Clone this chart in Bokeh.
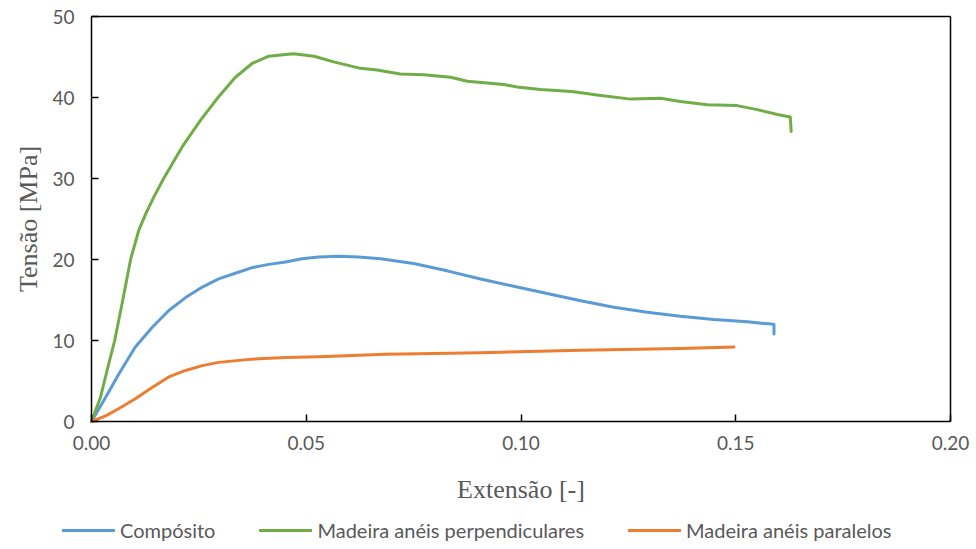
from bokeh.plotting import figure
from bokeh.models import (Range1d, FixedTicker, NumeralTickFormatter, Legend, LegendItem,
                          LinearAxis)
from bokeh.embed import file_html
from bokeh.resources import INLINE

# ---- data ----
strain_comp = [0, 0.0033, 0.0064, 0.0102, 0.0141, 0.018, 0.0219, 0.0258, 0.0296, 0.0335,
               0.0374, 0.0413, 0.0452, 0.049, 0.0529, 0.0576, 0.0622, 0.0673, 0.075, 0.0828,
               0.0906, 0.0983, 0.1061, 0.1139, 0.1216, 0.1294, 0.1371, 0.1449, 0.1527, 0.1589, 0.1589]
stress_comp = [0, 3.0, 5.9, 9.2, 11.6, 13.7, 15.3, 16.6, 17.6, 18.3,
               19.0, 19.4, 19.7, 20.1, 20.3, 20.4, 20.3, 20.1, 19.5, 18.6,
               17.6, 16.7, 15.8, 14.9, 14.1, 13.5, 13.0, 12.6, 12.3, 12.0, 10.8]

strain_perp = [0, 0.0021, 0.0040, 0.0054, 0.0074, 0.0091, 0.011, 0.0126, 0.0145, 0.0168,
               0.0211, 0.0254, 0.0293, 0.0335, 0.0374, 0.0413, 0.0452, 0.0471, 0.0518, 0.0564,
               0.0626, 0.0665, 0.0719, 0.0774, 0.0836, 0.0875, 0.0921, 0.096, 0.0991, 0.1045,
               0.110, 0.1123, 0.1177, 0.1255, 0.1325, 0.1371, 0.1434, 0.1503, 0.155, 0.1597,
               0.1627, 0.1629]
stress_perp = [0, 3.0, 7.1, 10.0, 15.3, 20.0, 23.6, 25.6, 27.7, 30.0,
               33.9, 37.2, 39.9, 42.5, 44.2, 45.1, 45.3, 45.4, 45.1, 44.4,
               43.6, 43.4, 42.9, 42.8, 42.5, 42.0, 41.8, 41.6, 41.3, 41.0,
               40.8, 40.7, 40.3, 39.8, 39.9, 39.5, 39.1, 39.0, 38.5, 37.9,
               37.6, 35.8]

strain_par = [0, 0.0033, 0.0064, 0.0102, 0.0141, 0.018, 0.0219, 0.0258, 0.0296, 0.0374,
              0.0452, 0.0529, 0.0685, 0.0906, 0.1139, 0.1371, 0.1496]
stress_par = [0, 0.7, 1.6, 2.8, 4.2, 5.5, 6.3, 6.9, 7.3, 7.7,
              7.9, 8.0, 8.3, 8.5, 8.8, 9.0, 9.2]

x_ticks = [0.0, 0.05, 0.10, 0.15, 0.20]
y_ticks = [0, 10, 20, 30, 40, 50]
x_min, x_max = 0.0, 0.2
y_min, y_max = 0, 50

series_names = ["Compósito", "Madeira anéis perpendiculares", "Madeira anéis paralelos"]
series_colors = ["#5B9BD5", "#70AD47", "#ED7D31"]
series_x = [strain_comp, strain_perp, strain_par]
series_y = [stress_comp, stress_perp, stress_par]

TEXT = "#595959"

# ---- layout: plot box inside the canvas (pixels) ----
W, H = 976, 549
box_left, box_right, box_top, box_bottom = 91, 950, 16, 421
kx = (box_right - box_left) / (x_max - x_min)
ky = (box_bottom - box_top) / (y_max - y_min)

p = figure(width=W, height=H, output_backend="svg", toolbar_location=None,
           x_range=Range1d(x_min - box_left / kx, x_max + (W - box_right) / kx),
           y_range=Range1d(y_min - (H - box_bottom) / ky, y_max + box_top / ky),
           min_border_left=0, min_border_right=0, min_border_top=0, min_border_bottom=0)
p.background_fill_color = "white"
p.border_fill_color = "white"
p.outline_line_color = None
p.grid.visible = False

rends = [p.line(xs, ys, line_color=c, line_width=3, line_join="round", line_cap="round")
         for xs, ys, c in zip(series_x, series_y, series_colors)]

xa = p.xaxis[0]
ya = p.yaxis[0]
xa.fixed_location = y_min
ya.fixed_location = x_min
xa.bounds = (x_min, x_max)
ya.bounds = (y_min, y_max)

for ax in (xa, ya):
    ax.axis_line_color = "black"
    ax.axis_line_width = 1.5
    ax.major_tick_line_color = "black"
    ax.major_tick_line_width = 1.5
    ax.major_tick_in = 7
    ax.major_tick_out = 0
    ax.minor_tick_line_color = None
    ax.major_label_text_font = "Lato"
    ax.major_label_text_font_size = "19px"
    ax.major_label_text_color = TEXT
    ax.axis_label_text_font = "Liberation Serif"
    ax.axis_label_text_font_size = "26px"
    ax.axis_label_text_font_style = "normal"
    ax.axis_label_text_color = TEXT

xa.ticker = FixedTicker(ticks=x_ticks)
xa.formatter = NumeralTickFormatter(format="0.00")
ya.ticker = FixedTicker(ticks=y_ticks)
xa.axis_label = "Extensão [-]"
ya.axis_label = "Tensão [MPa]"
xa.major_label_standoff = 14
ya.major_label_standoff = 17
xa.axis_label_standoff = 22
ya.axis_label_standoff = 6

# top and right edges of the plot box
top_ax = LinearAxis(fixed_location=y_max, bounds=(x_min, x_max), ticker=FixedTicker(ticks=[]),
                    axis_line_color="black", axis_line_width=1.5,
                    major_tick_line_color=None, minor_tick_line_color=None,
                    major_label_text_font_size="0px")
right_ax = LinearAxis(fixed_location=x_max, bounds=(y_min, y_max), ticker=FixedTicker(ticks=[]),
                      axis_line_color="black", axis_line_width=1.5,
                      major_tick_line_color=None, minor_tick_line_color=None,
                      major_label_text_font_size="0px")
p.add_layout(top_ax, "above")
p.add_layout(right_ax, "right")

leg = Legend(items=[LegendItem(label=n, renderers=[r]) for n, r in zip(series_names, rends)],
             location=(62, 7), orientation="horizontal",
             padding=0, margin=0, spacing=44,
             border_line_color=None, background_fill_alpha=0,
             glyph_width=53, glyph_height=20, label_standoff=5,
             label_text_font="Lato", label_text_font_size="20px",
             label_text_color=TEXT)
p.add_layout(leg)

open("out.html", "w").write(file_html(p, INLINE))
